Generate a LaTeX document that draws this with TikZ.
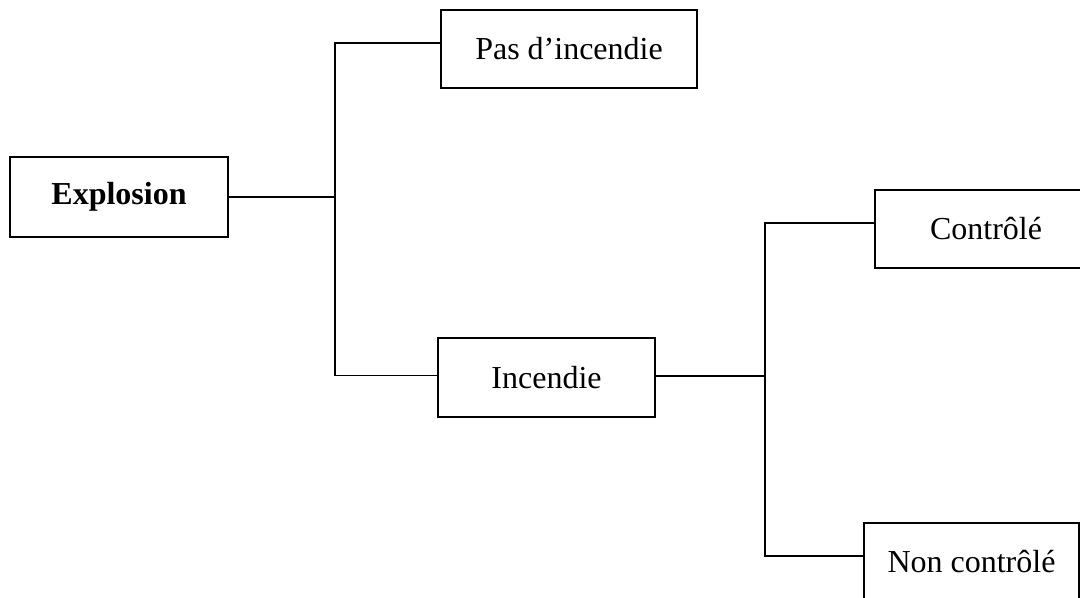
\documentclass[tikz,border=0pt]{standalone}
\usepackage{fontspec}
\setmainfont{Liberation Serif}

\tikzset{
	event/.style={draw, line width=1.3pt, inner sep=0pt, align=center,
		font=\fontsize{16}{19}\selectfont},
	branch/.style={line width=0.6pt}
}

\begin{document}
\begin{tikzpicture}[x=0.5pt, y=-0.5pt]
		\useasboundingbox (0,0) rectangle (1080,598);

		% Draw the boxes
		\node[event, minimum width=109pt, minimum height=40pt] (expl) at (119,197) {\textbf{Explosion}};
		\node[event, minimum width=128pt, minimum height=39pt] (pas) at (569,49) {Pas d'incendie};
		\node[event, minimum width=108.5pt, minimum height=39.5pt] (inc) at (546.5,377.5) {Incendie};
		\node[event, minimum width=111pt, minimum height=39pt] (ctrl) at (986,229) {Contrôlé};
		\node[event, minimum width=107.5pt, minimum height=39pt] (nctrl) at (971.5,562) {Non contrôlé};

		% Junction points of the branches
		\coordinate (j1) at (335,197);
		\coordinate (j2) at (765,376);

		% Draw the first branching
		\draw[branch] (expl.east) -- (j1);
		\draw[branch] (j1) |- ([yshift=3pt]pas.west);
		\draw[branch] (j1) |- ([yshift=1pt]inc.west);

		% Draw the second branching
		\draw[branch] ([yshift=0.75pt]inc.east) -- (j2);
		\draw[branch] (j2) |- ([yshift=3pt]ctrl.west);
		\draw[branch] (j2) |- ([yshift=3pt]nctrl.west);
	\end{tikzpicture}
\end{document}
